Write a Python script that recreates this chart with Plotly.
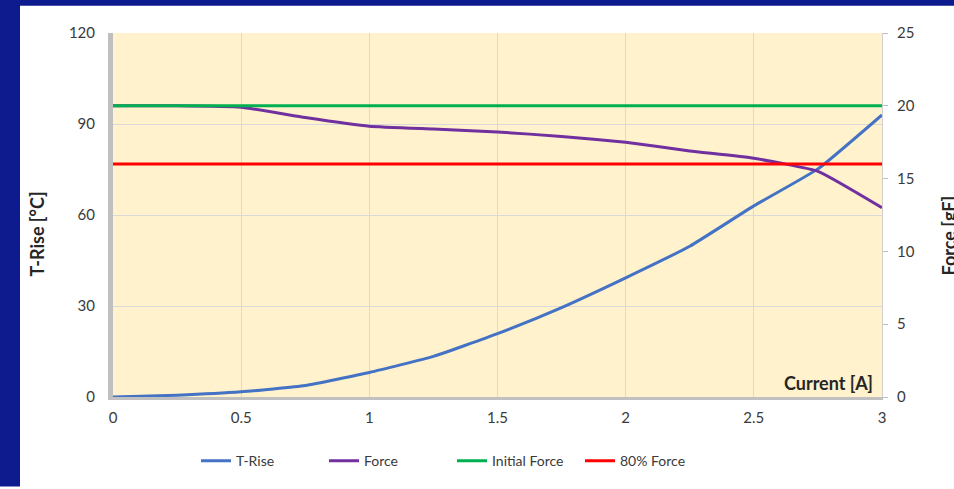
import plotly.graph_objects as go

# Current steps [A]
current = [0, 0.25, 0.5, 0.75, 1.0, 1.25, 1.5, 1.75, 2.0, 2.25, 2.5, 2.75, 3.0]
# Temperature rise [°C]
t_rise = [0, 0.6, 1.7, 3.8, 8.1, 13.4, 20.9, 29.5, 39.3, 49.7, 63.0, 75.2, 93.0]
# Contact force [gF]
force = [20.0, 20.0, 19.9, 19.2, 18.6, 18.4, 18.2, 17.9, 17.5, 16.9, 16.4, 15.5, 13.0]
# Reference levels [gF]
initial_force = [20.0] * len(current)
force_80 = [16.0] * len(current)

x_ticks = [0, 0.5, 1, 1.5, 2, 2.5, 3]
y_left_ticks = [0, 30, 60, 90, 120]
y_right_ticks = [0, 5, 10, 15, 20, 25]

FONT = "Lato"
TXT = "#3a3a3a"
GRID = "#d9d9d9"
FRAME = "#0d1b8e"

fig = go.Figure()
fig.add_trace(go.Scatter(x=current, y=t_rise, name="T-Rise", mode="lines",
                         line=dict(color="#4472C4", width=3, shape="spline", smoothing=0.4),
                         yaxis="y"))
fig.add_trace(go.Scatter(x=current, y=force, name="Force", mode="lines",
                         line=dict(color="#7030A0", width=3, shape="spline", smoothing=0.4),
                         yaxis="y2"))
fig.add_trace(go.Scatter(x=current, y=initial_force, name="Initial Force", mode="lines",
                         line=dict(color="#00B050", width=3), yaxis="y2"))
fig.add_trace(go.Scatter(x=current, y=force_80, name="80% Force", mode="lines",
                         line=dict(color="#FF0000", width=3), yaxis="y2"))

W, H = 954, 489
L, R, T, B = 113, 72, 33, 82
pw, ph = W - L - R, H - T - B


def px_x(p):
    return (p - L) / pw


def px_y(p):
    return (H - B - p) / ph


fig.update_layout(
    width=W, height=H,
    margin=dict(l=L, r=R, t=T, b=B, pad=0),
    paper_bgcolor="white",
    plot_bgcolor="#FFF2CC",
    font=dict(family=FONT, size=15, color=TXT),
    showlegend=True,
    legend=dict(orientation="h", x=px_x(196), xanchor="left", y=px_y(473), yanchor="middle",
                bgcolor="rgba(0,0,0,0)", font=dict(family=FONT, size=14, color=TXT),
                entrywidth=83, itemwidth=30),
    xaxis=dict(range=[0, 3], tickvals=x_ticks, ticktext=[str(v) for v in x_ticks],
               showgrid=True, gridcolor=GRID, gridwidth=1, zeroline=False,
               showline=True, linecolor="#c0c0c0", linewidth=3,
               ticks="", ticklabelstandoff=5,
               tickfont=dict(family=FONT, size=15, color=TXT)),
    yaxis=dict(range=[0, 120], tickvals=y_left_ticks,
               showgrid=True, gridcolor=GRID, gridwidth=1, zeroline=False,
               showline=True, linecolor="#bfbfbf", linewidth=5,
               ticks="", ticklabelstandoff=10,
               tickfont=dict(family=FONT, size=15, color=TXT)),
    yaxis2=dict(range=[0, 25], tickvals=y_right_ticks, overlaying="y", side="right",
                showgrid=False, zeroline=False,
                showline=True, linecolor="#d0d0d0", linewidth=1,
                ticks="outside", ticklen=5, tickcolor="#bfbfbf",
                ticklabelstandoff=6,
                tickfont=dict(family=FONT, size=15, color=TXT)),
    # dark frame along the left and top edges of the page
    shapes=[
        dict(type="rect", xref="paper", yref="paper", layer="above",
             x0=px_x(-10), x1=px_x(20), y0=px_y(H + 10), y1=px_y(-10),
             fillcolor=FRAME, line=dict(width=0)),
        dict(type="rect", xref="paper", yref="paper", layer="above",
             x0=px_x(-10), x1=px_x(W + 10), y0=px_y(5), y1=px_y(-10),
             fillcolor=FRAME, line=dict(width=0)),
    ],
    annotations=[
        dict(text="<b>T-Rise [°C]</b>", xref="paper", yref="paper",
             x=px_x(37), y=px_y(240), textangle=-90, showarrow=False,
             xanchor="center", yanchor="middle",
             font=dict(family=FONT, size=18, color="#262626")),
        dict(text="<b>Force [gF]</b>", xref="paper", yref="paper",
             x=px_x(949), y=px_y(242), textangle=-90, showarrow=False,
             xanchor="center", yanchor="middle",
             font=dict(family=FONT, size=18, color="#262626")),
        dict(text="<b>Current [A]</b>", xref="paper", yref="paper",
             x=px_x(875), y=px_y(393), showarrow=False,
             xanchor="right", yanchor="middle",
             font=dict(family=FONT, size=18, color="#262626")),
    ],
)

fig.write_html("out.html")
